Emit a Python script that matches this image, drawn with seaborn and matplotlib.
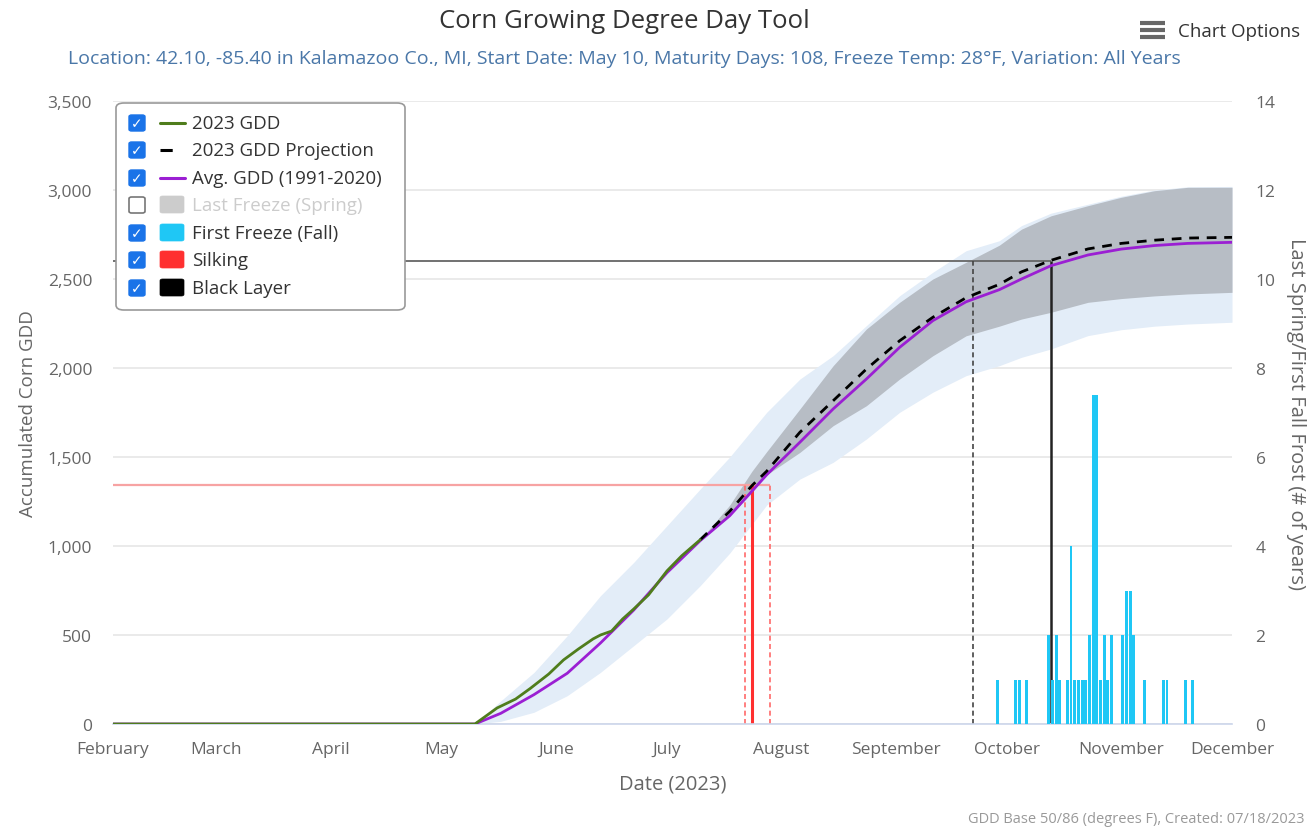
import pandas as pd
import matplotlib
matplotlib.use("Agg")
import matplotlib.pyplot as plt
import matplotlib.dates as mdates
from matplotlib.patches import FancyBboxPatch
from matplotlib.lines import Line2D
from matplotlib.ticker import FuncFormatter, MultipleLocator
import seaborn as sns

# ---- data ----
gdd_dates = ["2023-02-01", "2023-05-10", "2023-05-16", "2023-05-21", "2023-05-25", "2023-05-30",
             "2023-06-03", "2023-06-07", "2023-06-11", "2023-06-13", "2023-06-16", "2023-06-19",
             "2023-06-22", "2023-06-26", "2023-07-01", "2023-07-05", "2023-07-10"]
gdd_2023 = [0, 0, 90, 140, 200, 281, 360, 421, 478, 500, 522, 590, 646, 725, 860, 945, 1035]

avg_dates = ["2023-02-01", "2023-05-10", "2023-05-17", "2023-05-26", "2023-06-04", "2023-06-13",
             "2023-06-22", "2023-07-01", "2023-07-10", "2023-07-18", "2023-07-28", "2023-08-06",
             "2023-08-15", "2023-08-24", "2023-09-02", "2023-09-11", "2023-09-20", "2023-09-29",
             "2023-10-05", "2023-10-13", "2023-10-23", "2023-11-01", "2023-11-10", "2023-11-19",
             "2023-12-01"]
avg_gdd = [0, 0, 60, 165, 285, 455, 640, 850, 1030, 1170, 1400, 1583, 1770, 1938, 2116, 2266,
           2372, 2440, 2500, 2575, 2635, 2668, 2688, 2700, 2706]
avg_hi = [0, 0, 130, 290, 496, 721, 908, 1114, 1320, 1500, 1751, 1938, 2069, 2238, 2406, 2538,
          2659, 2715, 2800, 2870, 2920, 2965, 3000, 3018, 3020]
avg_lo = [0, 0, 15, 66, 159, 290, 440, 590, 777, 960, 1230, 1376, 1470, 1601, 1751, 1864,
          1957, 2013, 2060, 2107, 2182, 2215, 2235, 2247, 2257]

proj_dates = ["2023-07-10", "2023-07-18", "2023-07-24", "2023-07-28", "2023-08-06", "2023-08-15",
              "2023-08-24", "2023-09-02", "2023-09-11", "2023-09-20", "2023-09-29", "2023-10-05",
              "2023-10-13", "2023-10-23", "2023-11-01", "2023-11-10", "2023-11-19", "2023-12-01"]
proj_gdd = [1035, 1195, 1339, 1420, 1639, 1816, 1994, 2153, 2285, 2395, 2470, 2540, 2605, 2669,
            2700, 2718, 2730, 2734]
proj_hi = [1035, 1230, 1420, 1530, 1770, 2013, 2219, 2369, 2500, 2594, 2690, 2780, 2855, 2912,
           2959, 2996, 3015, 3015]
proj_lo = [1035, 1170, 1300, 1400, 1526, 1676, 1788, 1938, 2069, 2181, 2235, 2275, 2313, 2369,
           2390, 2405, 2416, 2425]

freeze_dates = ["2023-09-28", "2023-10-03", "2023-10-04", "2023-10-06", "2023-10-12", "2023-10-13",
                "2023-10-14", "2023-10-15", "2023-10-17", "2023-10-18", "2023-10-19", "2023-10-20",
                "2023-10-21", "2023-10-22", "2023-10-23", "2023-10-24", "2023-10-25", "2023-10-26",
                "2023-10-27", "2023-10-28", "2023-10-29", "2023-11-01", "2023-11-02", "2023-11-03",
                "2023-11-04", "2023-11-07", "2023-11-12", "2023-11-13", "2023-11-18", "2023-11-20"]
freeze_years = [1, 1, 1, 1, 2, 1, 2, 1, 1, 4, 1, 1, 1, 1, 2, 7.4, 7.4, 1, 2, 1, 2, 2, 3, 3, 2,
                1, 1, 1, 1, 1]

silking_dates = ["2023-07-22", "2023-07-24", "2023-07-29"]   # early, expected, late
silking_gdd = 1340
black_layer_dates = ["2023-09-22", "2023-10-13"]             # early, expected
black_layer_gdd = 2600

legend_labels = ["2023 GDD", "2023 GDD Projection", "Avg. GDD (1991-2020)", "Last Freeze (Spring)",
                 "First Freeze (Fall)", "Silking", "Black Layer"]

title = "Corn Growing Degree Day Tool"
subtitle = ("Location: 42.10, -85.40 in Kalamazoo Co., MI, Start Date: May 10, Maturity Days: 108, "
            "Freeze Temp: 28\u00b0F, Variation: All Years")
footer = "GDD Base 50/86 (degrees F), Created: 07/18/2023"

# ---- colours ----
GREEN = "#4f7d1c"
PURPLE = "#9b1fd3"
CYAN = "#1fc7f5"
RED = "#ff3030"
LIGHT_BLUE = "#e3edf8"
GRAY_BAND = "#b7bdc5"
TXT = "#666666"


def to_dt(lst):
    return pd.to_datetime(pd.Series(lst))


def main():
    sns.set_style("white")
    plt.rcParams["font.family"] = ["Open Sans", "DejaVu Sans"]

    W, H = 1316, 829
    fig = plt.figure(figsize=(W / 100, H / 100), dpi=100)
    ax = fig.add_axes([113 / W, 1 - 725 / H, (1232 - 113) / W, (725 - 102) / H])

    # bands
    ad = to_dt(avg_dates)
    pdt = to_dt(proj_dates)
    ax.fill_between(ad, avg_lo, avg_hi, color=LIGHT_BLUE, lw=0, zorder=1)
    ax.fill_between(pdt, proj_lo, proj_hi, color=GRAY_BAND, lw=0, zorder=1.5)

    # silking & black layer markers
    sd = to_dt(silking_dates)
    bd = to_dt(black_layer_dates)
    xmin = pd.Timestamp("2023-02-01")
    xmax = pd.Timestamp("2023-12-01")
    ax.hlines(silking_gdd, xmin, sd.iloc[2], color="#f7a3a3", lw=1.6, zorder=2)
    ax.vlines([sd.iloc[0], sd.iloc[2]], 0, silking_gdd, color="#ff6a6a", lw=1.2,
              linestyles=(0, (3, 2)), zorder=2)
    ax.vlines(sd.iloc[1], 0, silking_gdd, color=RED, lw=2.2, zorder=2)
    ax.hlines(black_layer_gdd, xmin, bd.iloc[1], color="#666666", lw=1.3, zorder=2)
    ax.vlines(bd.iloc[0], 0, black_layer_gdd, color="#444444", lw=1.2,
              linestyles=(0, (3, 2)), zorder=2)
    ax.vlines(bd.iloc[1], 0, black_layer_gdd, color="#222222", lw=1.8, zorder=2)

    # GDD lines
    sns.lineplot(x=ad, y=avg_gdd, ax=ax, color=PURPLE, lw=2.0, zorder=3)
    sns.lineplot(x=pdt, y=proj_gdd, ax=ax, color="black", lw=2.0, linestyle=(0, (3.5, 2.8)), zorder=4)
    sns.lineplot(x=to_dt(gdd_dates), y=gdd_2023, ax=ax, color=GREEN, lw=2.0, zorder=5)

    ax.set_xlim(xmin, xmax)
    ax.set_ylim(0, 3500)
    ax.yaxis.set_major_locator(MultipleLocator(500))
    ax.yaxis.set_major_formatter(FuncFormatter(lambda v, p: f"{int(v):,}"))
    ax.grid(axis="y", color="#e6e6e6", lw=1.2)
    ax.grid(axis="x", visible=False)
    ax.set_axisbelow(True)
    ax.xaxis.set_major_locator(mdates.MonthLocator())
    ax.xaxis.set_major_formatter(mdates.DateFormatter("%B"))
    for s in ["top", "left", "right"]:
        ax.spines[s].set_visible(False)
    ax.spines["bottom"].set_color("#ccd6eb")
    ax.spines["bottom"].set_linewidth(1.2)
    ax.tick_params(axis="x", direction="out", length=8, width=1.2, color="#ccd6eb",
                   labelsize=12.5, labelcolor=TXT, pad=4)
    ax.tick_params(axis="y", length=0, labelsize=12.5, labelcolor=TXT, pad=15)
    ax.set_xlabel("Date (2023)", fontsize=14.5, color=TXT, labelpad=12)
    ax.set_ylabel("Accumulated Corn GDD", fontsize=13.5, color=TXT, labelpad=8)

    # first fall freeze histogram on the right axis
    ax2 = ax.twinx()
    ax2.bar(to_dt(freeze_dates), freeze_years, width=0.8, align="edge", color=CYAN, lw=0, zorder=3)
    ax2.set_ylim(0, 14)
    ax2.yaxis.set_major_locator(MultipleLocator(2))
    for s in ax2.spines.values():
        s.set_visible(False)
    ax2.grid(False)
    ax2.tick_params(axis="y", length=0, labelsize=12.5, labelcolor=TXT, pad=17)
    ax2.set_ylabel("Last Spring/First Fall Frost (# of years)", fontsize=14.5, color=TXT,
                   rotation=270, labelpad=22)
    ax2.set_xlim(xmin, xmax)

    # titles
    fig.text(624 / W, 1 - 21 / H, title, ha="center", va="center", fontsize=18.5, color="#333333")
    fig.text(624 / W, 1 - 59 / H, subtitle, ha="center", va="center", fontsize=14, color="#4a77a8")
    fig.text(1304 / W, 1 - 820 / H, footer, ha="right", va="center", fontsize=10.5, color="#999999")

    # chart options button
    for yy in (24, 31, 38):
        fig.add_artist(Line2D([1140 / W, 1165 / W], [1 - yy / H, 1 - yy / H], color="#666666",
                              lw=3, solid_capstyle="butt"))
    fig.text(1178 / W, 1 - 32 / H, "Chart Options", ha="left", va="center", fontsize=13.5,
             color="#333333")

    # legend box with checkboxes
    fig.add_artist(FancyBboxPatch((116 / W, 1 - 311 / H), 289 / W, 207 / H,
                                  boxstyle="round,pad=0,rounding_size=0.006",
                                  transform=fig.transFigure, fc="white", ec="#999999", lw=1.2, zorder=10))
    row_y = [124, 151, 179, 206, 234, 261, 289]
    checked = [True, True, True, False, True, True, True]
    for i, (lab, yy) in enumerate(zip(legend_labels, row_y)):
        fy = 1 - yy / H
        if checked[i]:
            fig.add_artist(FancyBboxPatch((129 / W, fy - 8 / H), 16 / W, 16 / H,
                                          boxstyle="round,pad=0,rounding_size=0.002",
                                          transform=fig.transFigure, fc="#1a73e8", ec="#1a73e8",
                                          lw=1, zorder=11))
            fig.text(137 / W, fy, "\u2713", ha="center", va="center", fontsize=10, color="white",
                     fontweight="bold", family="DejaVu Sans", zorder=12)
        else:
            fig.add_artist(FancyBboxPatch((129 / W, fy - 8 / H), 16 / W, 16 / H,
                                          boxstyle="round,pad=0,rounding_size=0.002",
                                          transform=fig.transFigure, fc="white", ec="#777777",
                                          lw=1.2, zorder=11))
        if i == 0:
            fig.add_artist(Line2D([160 / W, 185 / W], [fy, fy], color=GREEN, lw=2.2, zorder=11))
        elif i == 1:
            fig.add_artist(Line2D([160 / W, 185 / W], [fy, fy], color="black", lw=2.2,
                                  linestyle=(0, (4, 6)), zorder=11))
        elif i == 2:
            fig.add_artist(Line2D([160 / W, 185 / W], [fy, fy], color=PURPLE, lw=2.2, zorder=11))
        else:
            sq_col = ["#cccccc", CYAN, RED, "black"][i - 3]
            fig.add_artist(FancyBboxPatch((160 / W, fy - 8 / H), 24 / W, 17 / H,
                                          boxstyle="round,pad=0,rounding_size=0.002",
                                          transform=fig.transFigure, fc=sq_col, ec=sq_col,
                                          lw=0.5, zorder=11))
        fig.text(192 / W, fy, lab, ha="left", va="center", fontsize=13.5,
                 color="#cccccc" if not checked[i] else "#333333", zorder=12)

    fig.savefig("out.png", dpi=100)
    plt.close(fig)


if __name__ == "__main__":
    main()
